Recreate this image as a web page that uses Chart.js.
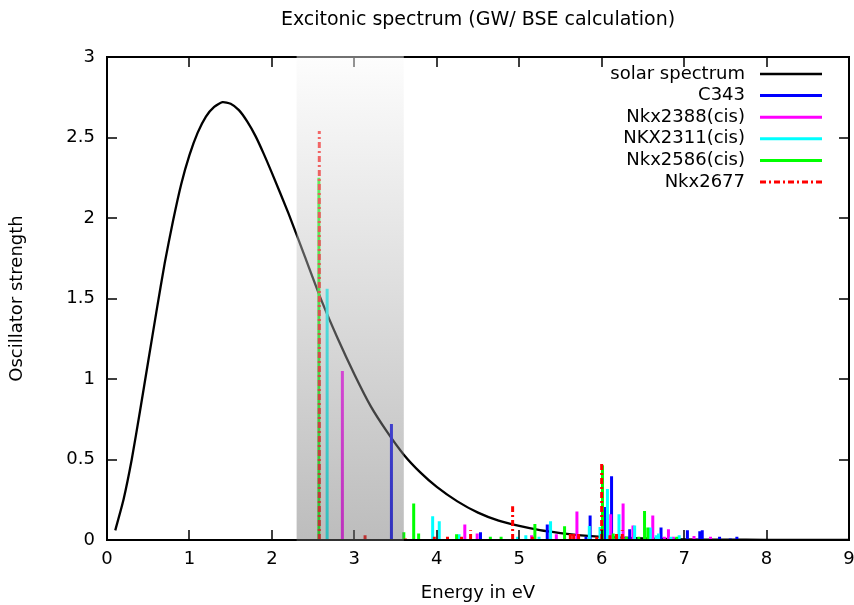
<!DOCTYPE html>
<html>
<head>
<meta charset="utf-8">
<script src="https://cdn.jsdelivr.net/npm/chart.js@4"></script>
<style>
  html, body { margin: 0; padding: 0; background: #fff; }
</style>
</head>
<body>
<canvas id="chart" width="854" height="605"></canvas>
<script>
// solar spectrum
const solarEnergy = [0.1, 0.2, 0.3, 0.4, 0.5, 0.6, 0.7, 0.8, 0.9, 1.0, 1.1, 1.2, 1.3, 1.4, 1.5, 1.6, 1.7, 1.8, 1.9, 2.0,
  2.2, 2.4, 2.6, 2.8, 3.0, 3.2, 3.4, 3.6, 3.8, 4.0, 4.25, 4.5, 4.75, 5.0, 5.25, 5.5, 5.75, 6.0, 6.5, 7.0, 7.5, 8.0, 8.5, 9.0];
const solarValue = [0.06, 0.25, 0.5, 0.8, 1.11, 1.42, 1.72, 1.98, 2.21, 2.39, 2.53, 2.63, 2.69, 2.72, 2.71, 2.67, 2.6, 2.51, 2.4, 2.28,
  2.03, 1.76, 1.49, 1.25, 1.03, 0.83, 0.67, 0.53, 0.42, 0.33, 0.24, 0.17, 0.12, 0.087, 0.061, 0.043, 0.029, 0.02, 0.01, 0.004, 0.002, 0.001, 0.0, 0.0];

// excitation energies (eV) and oscillator strengths
const c343Energy   = [3.45, 4.53, 5.34, 5.81, 5.86, 6.04, 6.12, 6.34, 6.72, 7.04, 7.19, 7.22, 7.43, 7.56, 7.64];
const c343Strength = [0.72, 0.048, 0.096, 0.02, 0.152, 0.205, 0.396, 0.066, 0.077, 0.06, 0.055, 0.06, 0.02, 0.01, 0.02];

const nkx2388Energy   = [2.855, 4.34, 4.49, 5.15, 5.45, 5.70, 6.11, 6.26, 6.38, 6.62, 6.76, 6.81, 6.87, 7.12, 7.32];
const nkx2388Strength = [1.05, 0.096, 0.04, 0.03, 0.035, 0.177, 0.16, 0.226, 0.09, 0.152, 0.02, 0.066, 0.02, 0.025, 0.02];

const nkx2311Energy   = [2.67, 3.95, 4.03, 4.27, 4.98, 5.08, 5.24, 5.38, 5.85, 5.98, 6.07, 6.21, 6.40, 6.59, 6.66, 6.69, 6.84, 6.94];
const nkx2311Strength = [1.56, 0.147, 0.116, 0.035, 0.02, 0.03, 0.02, 0.116, 0.087, 0.08, 0.317, 0.16, 0.09, 0.077, 0.03, 0.04, 0.02, 0.03];

const nkx2586Energy   = [2.57, 3.60, 3.72, 3.78, 4.24, 4.65, 4.78, 5.19, 5.55, 6.01, 6.14, 6.30, 6.45, 6.52, 6.56, 6.91];
const nkx2586Strength = [2.25, 0.048, 0.226, 0.04, 0.035, 0.02, 0.02, 0.10, 0.085, 0.465, 0.04, 0.02, 0.02, 0.18, 0.077, 0.02];

const nkx2677Energy   = [2.575, 3.13, 3.62, 3.97, 4.13, 4.30, 4.41, 4.92, 5.16, 5.62, 5.66, 5.72, 5.94, 6.00, 6.10, 6.18, 6.25];
const nkx2677Strength = [2.54, 0.03, 0.01, 0.02, 0.02, 0.02, 0.06, 0.21, 0.02, 0.04, 0.055, 0.05, 0.02, 0.49, 0.03, 0.05, 0.06];

// shaded visible range (eV)
const bandRange = [2.3, 3.6];

const titleText = "Excitonic spectrum (GW/ BSE calculation)";
const FONT = "'DejaVu Sans', sans-serif";

function sticks(energies, strengths) {
  const pts = [];
  energies.forEach((e, i) => {
    pts.push({ x: e, y: 0 }, { x: e, y: strengths[i] }, { x: e, y: null });
  });
  return pts;
}

function stickSet(label, color, energies, strengths, order, dash) {
  return {
    label: label,
    data: sticks(energies, strengths),
    borderColor: color,
    borderWidth: 3,
    borderCapStyle: "butt",
    borderDash: dash || [],
    pointRadius: 0,
    spanGaps: false,
    order: order,
  };
}

const datasets = [
  {
    label: "solar spectrum",
    data: solarEnergy.map((e, i) => ({ x: e, y: solarValue[i] })),
    borderColor: "#000",
    borderWidth: 2.3,
    pointRadius: 0,
    tension: 0.2,
    order: 6,
  },
  stickSet("C343", "#0000ff", c343Energy, c343Strength, 5),
  stickSet("Nkx2388(cis)", "#ff00ff", nkx2388Energy, nkx2388Strength, 4),
  stickSet("NKX2311(cis)", "#00ffff", nkx2311Energy, nkx2311Strength, 3),
  stickSet("Nkx2586(cis)", "#00ff00", nkx2586Energy, nkx2586Strength, 2),
  stickSet("Nkx2677", "#ff0000", nkx2677Energy, nkx2677Strength, 1, [6, 3, 2, 3]),
];

// frame, inward ticks and the grey band drawn over the data
const framePlugin = {
  id: "frame",
  afterDatasetsDraw(chart) {
    const { ctx, chartArea: a, scales } = chart;
    const x = scales.x, y = scales.y;
    ctx.save();
    ctx.strokeStyle = "#000";
    ctx.lineWidth = 1.5;
    ctx.beginPath();
    x.ticks.forEach(t => {
      const px = Math.round(x.getPixelForValue(t.value));
      ctx.moveTo(px, a.bottom); ctx.lineTo(px, a.bottom - 10);
      ctx.moveTo(px, a.top); ctx.lineTo(px, a.top + 10);
    });
    y.ticks.forEach(t => {
      const py = Math.round(y.getPixelForValue(t.value));
      ctx.moveTo(a.left, py); ctx.lineTo(a.left + 10, py);
      ctx.moveTo(a.right, py); ctx.lineTo(a.right - 10, py);
    });
    ctx.stroke();
    ctx.lineWidth = 2;
    ctx.strokeRect(a.left, a.top, a.right - a.left, a.bottom - a.top);

    const x0 = x.getPixelForValue(bandRange[0]);
    const x1 = x.getPixelForValue(bandRange[1]);
    const g = ctx.createLinearGradient(0, a.top, 0, a.bottom);
    g.addColorStop(0, "rgba(250,250,250,0.45)");
    g.addColorStop(1, "rgba(108,108,108,0.45)");
    ctx.fillStyle = g;
    ctx.fillRect(x0, a.top - 1, x1 - x0, a.bottom - a.top + 2);
    ctx.restore();
  },
  afterDraw(chart) {
    const { ctx, chartArea: a } = chart;
    ctx.save();
    // title centred over the plot area
    ctx.fillStyle = "#000";
    ctx.font = "19px " + FONT;
    ctx.textAlign = "center";
    ctx.textBaseline = "middle";
    ctx.fillText(titleText, (a.left + a.right) / 2, 20);

    // key in the top right corner, gnuplot style
    ctx.font = "18px " + FONT;
    ctx.textAlign = "right";
    chart.data.datasets.forEach((ds, i) => {
      const yy = 74 + i * 21.6;
      ctx.fillStyle = "#000";
      ctx.fillText(ds.label, 745, yy);
      ctx.strokeStyle = ds.borderColor;
      ctx.lineWidth = i === 0 ? 2.3 : 3;
      ctx.lineCap = "butt";
      ctx.setLineDash(ds.borderDash || []);
      ctx.beginPath();
      ctx.moveTo(760, yy);
      ctx.lineTo(822, yy);
      ctx.stroke();
    });
    ctx.restore();
  },
};

const ctx = document.getElementById("chart").getContext("2d");
const myChart = new Chart(ctx, {
  type: "line",
  data: { datasets: datasets },
  options: {
    responsive: false,
    animation: false,
    layout: { padding: { top: 57, right: 5 } },
    plugins: {
      legend: { display: false },
      tooltip: { enabled: false },
    },
    scales: {
      x: {
        type: "linear",
        min: 0,
        max: 9,
        ticks: { stepSize: 1, maxRotation: 0, color: "#000", padding: 9, font: { family: FONT, size: 18 } },
        grid: { display: false, drawTicks: false },
        border: { display: false },
        title: {
          display: true,
          text: "Energy in eV",
          color: "#000",
          font: { family: FONT, size: 18 },
          padding: { top: 0, bottom: 1 },
        },
        afterFit(scale) {
          scale.height = 65;
          scale.paddingLeft = 0;
          scale.paddingRight = 0;
        },
      },
      y: {
        min: 0,
        max: 3,
        ticks: {
          stepSize: 0.5,
          color: "#000",
          padding: 12,
          font: { family: FONT, size: 18 },
          callback: v => String(v),
        },
        grid: { display: false, drawTicks: false },
        border: { display: false },
        title: {
          display: true,
          text: "Oscillator strength",
          color: "#000",
          font: { family: FONT, size: 18 },
          padding: { top: 7, bottom: 0 },
        },
        afterFit(scale) {
          scale.width = 107;
          scale.paddingTop = 0;
          scale.paddingBottom = 0;
        },
      },
    },
  },
  plugins: [framePlugin],
});
</script>
</body>
</html>
